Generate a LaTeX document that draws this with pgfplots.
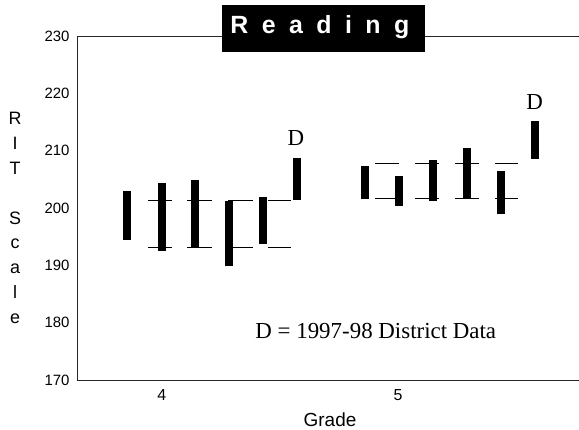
\documentclass[border=0pt]{standalone}
\usepackage{pgfplots}
\pgfplotsset{compat=1.18}
\usepackage{fontspec}
\setmainfont{Liberation Sans}
\newfontfamily\serif{Liberation Serif}
\newfontfamily\titlefont[LetterSpace=54]{Liberation Sans}
\begin{document}
\begin{tikzpicture}
\path[use as bounding box] (0,0) rectangle (579bp,430bp);
\begin{axis}[
  at={(77bp,50bp)}, anchor=south west,
  width=502bp, height=344bp, scale only axis,
  xmin=77, xmax=579, ymin=170, ymax=230,
  axis lines=left,
  axis line style={-, black!85, line width=0.9bp},
  ytick={170,180,...,230},
  xtick={161.7,398}, xticklabels={4,5},
  major tick length=0pt,
  /pgf/number format/assume math mode=true,
  yticklabel style={font=\fontsize{15}{15}\selectfont, xshift=-4bp},
  xticklabel style={font=\fontsize{16}{16}\selectfont, yshift=-6bp},
  clip=false,
  unbounded coords=jump,
]
% top axis line
\draw[black!85, line width=0.9bp] (rel axis cs:0,1) -- (rel axis cs:1,1);
% horizontal reference segments (grade 4)
\addplot[black, line width=1bp, forget plot] coordinates {
 (147.7,201.3) (172.3,201.3) (172.3,nan)
 (187.3,201.3) (212.3,201.3) (212.3,nan)
 (228.3,201.3) (252.7,201.3) (252.7,nan)
 (267.7,201.3) (290.7,201.3) (290.7,nan)
 (147.7,193.1) (172.3,193.1) (172.3,nan)
 (187.3,193.1) (212.3,193.1) (212.3,nan)
 (228.3,193.1) (252.7,193.1) (252.7,nan)
 (267.7,193.1) (290.7,193.1)
};
% horizontal reference segments (grade 5)
\addplot[black, line width=1bp, forget plot] coordinates {
 (375,207.7) (399.3,207.7) (399.3,nan)
 (415,207.7) (439.3,207.7) (439.3,nan)
 (455,207.7) (479.3,207.7) (479.3,nan)
 (495,207.7) (517.7,207.7) (517.7,nan)
 (375,201.7) (399.3,201.7) (399.3,nan)
 (415,201.7) (439.3,201.7) (439.3,nan)
 (455,201.7) (479.3,201.7) (479.3,nan)
 (495,201.7) (517.7,201.7)
};
% floating bars
\addplot[black, line width=8bp, forget plot] coordinates {
 (127,194.4) (127,203.0) (127,nan)
 (161.5,192.5) (161.5,204.4) (161.5,nan)
 (195,193.0) (195,204.9) (195,nan)
 (229,189.8) (229,201.3) (229,nan)
 (263,193.8) (263,201.9) (263,nan)
 (297,201.4) (297,208.8) (297,nan)
 (364.7,201.5) (364.7,207.4) (364.7,nan)
 (398.7,200.4) (398.7,205.5) (398.7,nan)
 (432.5,201.2) (432.5,208.4) (432.5,nan)
 (466.5,201.7) (466.5,210.5) (466.5,nan)
 (500.5,198.9) (500.5,206.5) (500.5,nan)
 (534.5,208.6) (534.5,215.2)
};
\node[anchor=south, inner sep=0pt, font=\serif\fontsize{23}{23}\selectfont] at (axis cs:296,210.8) {D};
\node[anchor=south, inner sep=0pt, font=\serif\fontsize{23}{23}\selectfont] at (axis cs:534.7,217.1) {D};
\node[anchor=base, inner sep=0pt, font=\serif\fontsize{23}{23}\selectfont] at (axis cs:375.8,177.3) {D = 1997-98 District Data};
\end{axis}
% title box
\fill[black] (221.7bp,378.3bp) rectangle (425bp,425bp);
\node[anchor=base west, inner sep=0pt, text=white, font=\titlefont\bfseries\fontsize{25}{25}\selectfont] at (230.2bp,396bp) {Reading};
% axis labels
\node[anchor=base, inner sep=0pt, font=\fontsize{19}{19}\selectfont] at (330bp,3.5bp) {Grade};
\node[align=center, inner sep=0pt, font=\fontsize{18}{25}\selectfont] at (15bp,212bp) {R\\I\\T\\\strut\\S\\c\\a\\l\\e};
\end{tikzpicture}
\end{document}
